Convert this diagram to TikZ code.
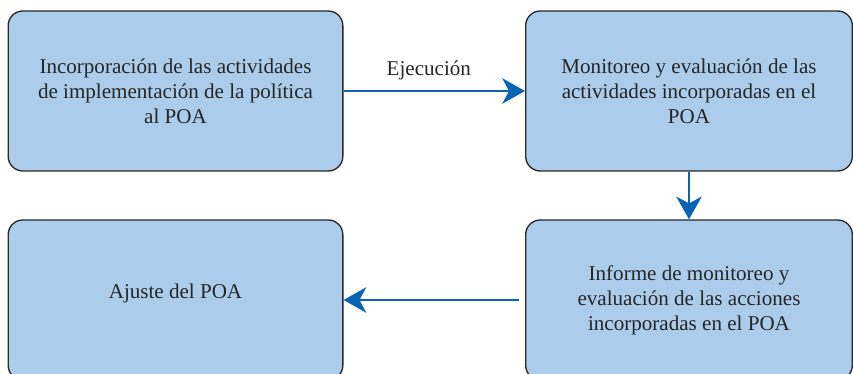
\documentclass[tikz,border=0pt]{standalone}
\usepackage{fontspec}
\setmainfont{Liberation Serif}
\usetikzlibrary{arrows.meta}

\definecolor{boxblue}{RGB}{171,205,235}
\definecolor{boxline}{RGB}{40,40,40}
\definecolor{arrowblue}{RGB}{10,100,180}

\tikzstyle{stage}=[draw=boxline,line width=1pt,fill=boxblue,rounded corners=11pt,minimum width=251pt,minimum height=120pt,align=center,font=\fontsize{15.8}{18.8}\selectfont,text=black!85]
\tikzstyle{flow} = [draw=arrowblue,line width=2.2pt,-{Stealth[length=17pt,width=19pt,inset=5pt]}]

\begin{document}
\begin{tikzpicture}[x=0.75pt,y=0.75pt]
			\useasboundingbox (0,0) rectangle (853,374);
			\node[stage] (incorp) at (175.5,283) {Incorporación de las actividades\\de implementación de la política\\al POA};
			\node[stage,minimum width=245pt] (monit) at (689,283) {Monitoreo y evaluación de las\\actividades incorporadas en el\\POA};
			\node[stage,minimum width=245pt] (informe) at (689,74) {Informe de monitoreo y\\evaluación de las acciones\\incorporadas en el POA};
			\node[stage] (ajuste) at (175.5,74) {\raisebox{13pt}{Ajuste del POA}};
   			 % Connect the stages
   			\path[flow] (incorp) -- node[pos=0.47,above=4pt,font=\fontsize{15.8}{18.8}\selectfont,text=black!85] (ejec) {Ejecución} (monit);
   			\path[flow] (monit) -- (informe);
   			\path[flow,shorten <=4.5pt] (informe) -- (ajuste);
		\end{tikzpicture}
\end{document}
